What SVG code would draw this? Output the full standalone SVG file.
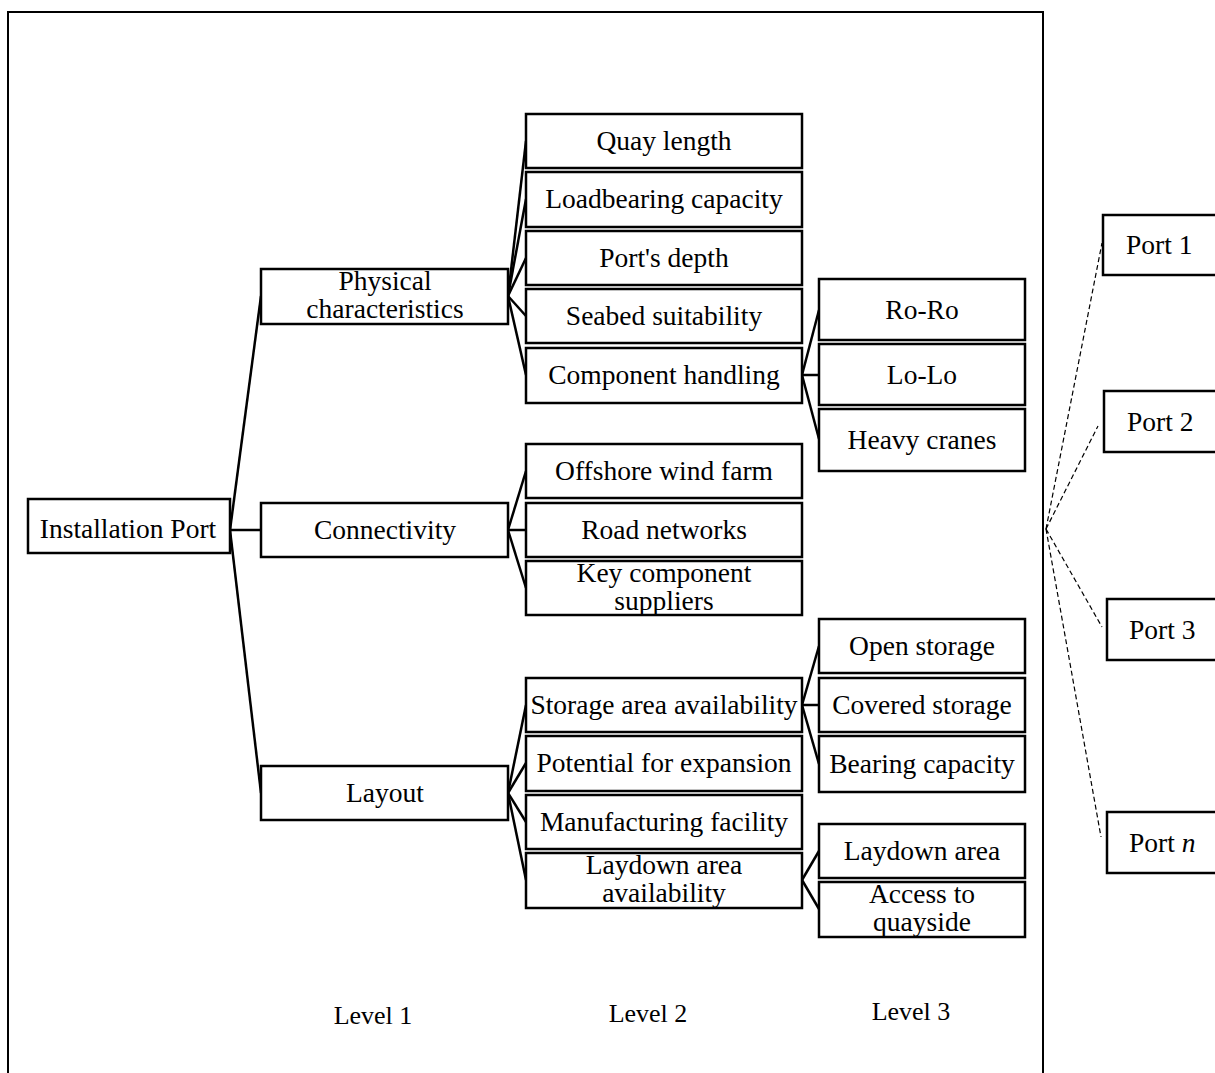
<svg xmlns="http://www.w3.org/2000/svg" width="1215" height="1073" viewBox="0 0 1215 1073">
<style>
  .box { fill: #fff; stroke: #000; stroke-width: 2.5; }
  .t { font-family: "Liberation Serif", "Times New Roman", serif; font-size: 27.5px; fill: #000; text-anchor: middle; }
  .tp { font-family: "Liberation Serif", "Times New Roman", serif; font-size: 27.5px; fill: #000; text-anchor: start; }
  .lv { font-family: "Liberation Serif", "Times New Roman", serif; font-size: 26px; fill: #000; text-anchor: middle; }
  .con line { stroke: #000; stroke-width: 2.5; }
  .dash line { stroke: #000; stroke-width: 1.2; stroke-dasharray: 5 3; }
</style>
<rect x="0" y="0" width="1215" height="1073" fill="#fff"/>
<rect id="frame" x="8" y="12" width="1035" height="1090" fill="none" stroke="#000" stroke-width="2"/>

<g id="connectors" class="con">
  <line x1="230" y1="530" x2="261" y2="296"/>
  <line x1="230" y1="530" x2="261" y2="530"/>
  <line x1="230" y1="530" x2="261" y2="793"/>
  <line x1="508" y1="296" x2="526" y2="141"/>
  <line x1="508" y1="296" x2="526" y2="199"/>
  <line x1="508" y1="296" x2="526" y2="258"/>
  <line x1="508" y1="296" x2="526" y2="316"/>
  <line x1="508" y1="296" x2="526" y2="375"/>
  <line x1="508" y1="530" x2="526" y2="471"/>
  <line x1="508" y1="530" x2="526" y2="530"/>
  <line x1="508" y1="530" x2="526" y2="588"/>
  <line x1="508" y1="793" x2="526" y2="705"/>
  <line x1="508" y1="793" x2="526" y2="763"/>
  <line x1="508" y1="793" x2="526" y2="822"/>
  <line x1="508" y1="793" x2="526" y2="880"/>
  <line x1="802" y1="375" x2="819" y2="310"/>
  <line x1="802" y1="375" x2="819" y2="375"/>
  <line x1="802" y1="375" x2="819" y2="439"/>
  <line x1="802" y1="705" x2="819" y2="646"/>
  <line x1="802" y1="705" x2="819" y2="705"/>
  <line x1="802" y1="705" x2="819" y2="764"/>
  <line x1="802" y1="880" x2="819" y2="851"/>
  <line x1="802" y1="880" x2="819" y2="909"/>
</g>
<g id="port-connectors" class="dash">
  <line x1="1046" y1="529" x2="1102" y2="243"/>
  <line x1="1046" y1="529" x2="1098" y2="426"/>
  <line x1="1046" y1="529" x2="1102" y2="627"/>
  <line x1="1046" y1="529" x2="1101" y2="837"/>
</g>

<g id="installation-port"><rect class="box" x="28" y="499" width="202" height="54"/><text class="t" x="128" y="538">Installation Port</text></g>

<g id="physical"><rect class="box" x="261" y="269" width="247" height="55"/><text class="t" x="385" y="290">Physical</text><text class="t" x="385" y="318">characteristics</text></g>
<g id="connectivity"><rect class="box" x="261" y="503" width="247" height="54"/><text class="t" x="385" y="539">Connectivity</text></g>
<g id="layout"><rect class="box" x="261" y="766" width="247" height="54"/><text class="t" x="385" y="802">Layout</text></g>

<g id="quay"><rect class="box" x="526" y="114" width="276" height="54"/><text class="t" x="664" y="150">Quay length</text></g>
<g id="loadbearing"><rect class="box" x="526" y="172" width="276" height="55"/><text class="t" x="664" y="208">Loadbearing capacity</text></g>
<g id="depth"><rect class="box" x="526" y="231" width="276" height="54"/><text class="t" x="664" y="267">Port's depth</text></g>
<g id="seabed"><rect class="box" x="526" y="289" width="276" height="54"/><text class="t" x="664" y="325">Seabed suitability</text></g>
<g id="component"><rect class="box" x="526" y="348" width="276" height="55"/><text class="t" x="664" y="384">Component handling</text></g>

<g id="offshore"><rect class="box" x="526" y="444" width="276" height="54"/><text class="t" x="664" y="480">Offshore wind farm</text></g>
<g id="road"><rect class="box" x="526" y="503" width="276" height="54"/><text class="t" x="664" y="539">Road networks</text></g>
<g id="suppliers"><rect class="box" x="526" y="561" width="276" height="54"/><text class="t" x="664" y="582">Key component</text><text class="t" x="664" y="610">suppliers</text></g>

<g id="storage"><rect class="box" x="526" y="678" width="276" height="54"/><text class="t" x="664" y="714">Storage area availability</text></g>
<g id="expansion"><rect class="box" x="526" y="736" width="276" height="55"/><text class="t" x="664" y="772">Potential for expansion</text></g>
<g id="manufacturing"><rect class="box" x="526" y="795" width="276" height="54"/><text class="t" x="664" y="831">Manufacturing facility</text></g>
<g id="laydown"><rect class="box" x="526" y="853" width="276" height="55"/><text class="t" x="664" y="874">Laydown area</text><text class="t" x="664" y="902">availability</text></g>

<g id="roro"><rect class="box" x="819" y="279" width="206" height="61"/><text class="t" x="922" y="319">Ro-Ro</text></g>
<g id="lolo"><rect class="box" x="819" y="344" width="206" height="61"/><text class="t" x="922" y="384">Lo-Lo</text></g>
<g id="cranes"><rect class="box" x="819" y="409" width="206" height="62"/><text class="t" x="922" y="449">Heavy cranes</text></g>

<g id="open"><rect class="box" x="819" y="619" width="206" height="54"/><text class="t" x="922" y="655">Open storage</text></g>
<g id="covered"><rect class="box" x="819" y="678" width="206" height="54"/><text class="t" x="922" y="714">Covered storage</text></g>
<g id="bearing"><rect class="box" x="819" y="736" width="206" height="56"/><text class="t" x="922" y="773">Bearing capacity</text></g>

<g id="laydown-area"><rect class="box" x="819" y="824" width="206" height="54"/><text class="t" x="922" y="860">Laydown area</text></g>
<g id="access"><rect class="box" x="819" y="882" width="206" height="55"/><text class="t" x="922" y="903">Access to</text><text class="t" x="922" y="931">quayside</text></g>

<g id="port1"><rect class="box" x="1103" y="215" width="130" height="60"/><text class="tp" x="1126" y="254">Port 1</text></g>
<g id="port2"><rect class="box" x="1104" y="391" width="130" height="61"/><text class="tp" x="1127" y="431">Port 2</text></g>
<g id="port3"><rect class="box" x="1107" y="599" width="130" height="61"/><text class="tp" x="1129" y="639">Port 3</text></g>
<g id="portn"><rect class="box" x="1107" y="812" width="130" height="61"/><text class="tp" x="1129" y="852">Port <tspan font-style="italic">n</tspan></text></g>

<g id="levels">
  <text class="lv" x="373" y="1024">Level 1</text>
  <text class="lv" x="648" y="1022">Level 2</text>
  <text class="lv" x="911" y="1020">Level 3</text>
</g>
</svg>
